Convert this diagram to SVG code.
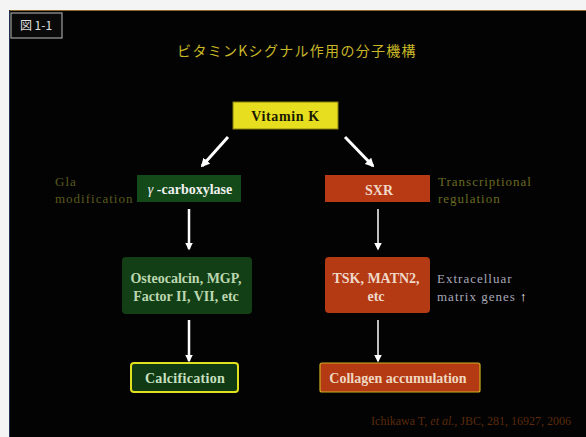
<svg xmlns="http://www.w3.org/2000/svg" width="586" height="437" viewBox="0 0 586 437">
<style>
.t{font-family:"Liberation Serif","Times New Roman",serif;font-weight:bold;font-size:14px;text-anchor:middle}
.note{font-family:"Liberation Serif","Times New Roman",serif;font-size:13px;letter-spacing:1px}
.ar{stroke:#ffffff;fill:none}
</style>
<defs>
<marker id="ah" viewBox="0 0 10 10" refX="8" refY="5" markerWidth="3" markerHeight="3" orient="auto" markerUnits="strokeWidth">
<path d="M0,0 L10,5 L0,10 z" fill="#ffffff"/>
</marker>
<marker id="ah2" viewBox="0 0 10 10" refX="8" refY="5" markerWidth="5" markerHeight="5" orient="auto" markerUnits="strokeWidth">
<path d="M0,0 L10,5 L0,10 z" fill="#ffffff"/>
</marker>
</defs>
<rect x="0" y="0" width="586" height="437" fill="#f4f4f4"/>
<rect x="9" y="10" width="577" height="427" fill="#030303"/>
<line x1="9" y1="10.5" x2="586" y2="10.5" stroke="#8a6a2a" stroke-width="1"/>
<line x1="9.5" y1="10" x2="9.5" y2="437" stroke="#203050" stroke-width="1"/>
<g id="figlabel">
<rect x="11" y="13" width="51" height="25" fill="#0a0a0a" stroke="#a0a0a0" stroke-width="1.2"/>
<text x="36" y="30" font-family="'Noto Sans CJK JP',sans-serif" font-size="12" fill="#e0e0e0" text-anchor="middle">図 1-1</text>
</g>
<g id="title">
<text x="297" y="56" font-family="'Noto Sans CJK JP',sans-serif" font-size="14" letter-spacing="1.3" fill="#c8b828" text-anchor="middle">ビタミンKシグナル作用の分子機構</text>
</g>
<g id="connectors">
<line class="ar" x1="228" y1="137" x2="202" y2="166" stroke-width="3" marker-end="url(#ah)"/>
<line class="ar" x1="345" y1="137" x2="373" y2="166" stroke-width="3" marker-end="url(#ah)"/>
<line class="ar" x1="189" y1="209" x2="189" y2="249" stroke-width="2.5" marker-end="url(#ah)"/>
<line class="ar" x1="189" y1="320" x2="189" y2="361" stroke-width="2.5" marker-end="url(#ah)"/>
<line class="ar" x1="378" y1="209" x2="378" y2="249" stroke-width="1.5" marker-end="url(#ah2)"/>
<line class="ar" x1="378" y1="320" x2="378" y2="361" stroke-width="1.5" marker-end="url(#ah2)"/>
</g>
<g id="vitaminK">
<rect x="233" y="102" width="105" height="27" fill="#e6de1e" stroke="#8a8010" stroke-width="1"/>
<text class="t" x="285.5" y="121" font-size="16" letter-spacing="0.6" fill="#1a1a00">Vitamin K</text>
</g>
<g id="carboxylase">
<rect x="137" y="175" width="104" height="27" fill="#144a1a"/>
<text class="t" x="190" y="194" font-size="15.5" fill="#f0f0f0"><tspan font-style="italic" font-weight="normal">γ</tspan> -carboxylase</text>
</g>
<g id="gla">
<text class="note" x="55" y="186" fill="#5a5a1e">Gla</text>
<text class="note" x="55" y="203" fill="#5a5a1e">modification</text>
</g>
<g id="sxr">
<rect x="325" y="175" width="105" height="27" fill="#b83a14"/>
<text class="t" x="379" y="195" font-size="16" fill="#f0d8c8">SXR</text>
</g>
<g id="transcriptional">
<text class="note" x="438" y="186" fill="#6a6a22">Transcriptional</text>
<text class="note" x="438" y="203" fill="#6a6a22">regulation</text>
</g>
<g id="osteocalcin">
<rect x="122" y="257" width="130" height="57" rx="4" fill="#133f16"/>
<text class="t" x="186" y="283" font-size="14.5" fill="#bcd8b0">Osteocalcin, MGP,</text>
<text class="t" x="186" y="301" font-size="14.5" fill="#bcd8b0">Factor II, VII, etc</text>
</g>
<g id="tsk">
<rect x="325" y="257" width="105" height="56" rx="4" fill="#b43a14"/>
<text class="t" x="376" y="283" fill="#f0d8c8">TSK, MATN2,</text>
<text class="t" x="376" y="301" fill="#f0d8c8">etc</text>
</g>
<g id="extracellular">
<text class="note" x="437" y="283" fill="#a8a8b8">Extracelluar</text>
<text class="note" x="437" y="301" fill="#a8a8b8">matrix genes <tspan fill="#ffffff" font-weight="bold">↑</tspan></text>
</g>
<g id="calcification">
<rect x="131" y="363" width="107" height="29" rx="3" fill="#103a14" stroke="#e0e020" stroke-width="2"/>
<text class="t" x="185" y="383" letter-spacing="0.3" fill="#c8e0c0">Calcification</text>
</g>
<g id="collagen">
<rect x="320" y="363" width="160" height="29" rx="2" fill="#b43a14" stroke="#d0b020" stroke-width="1.2"/>
<text class="t" x="398" y="383" font-size="14.5" fill="#f0d8c0">Collagen accumulation</text>
</g>
<g id="citation">
<text x="571" y="425" font-family="'Liberation Serif',serif" font-size="12" fill="#5a2a0a" text-anchor="end">Ichikawa T, <tspan font-style="italic">et al.</tspan>, JBC, 281, 16927, 2006</text>
</g>
</svg>
